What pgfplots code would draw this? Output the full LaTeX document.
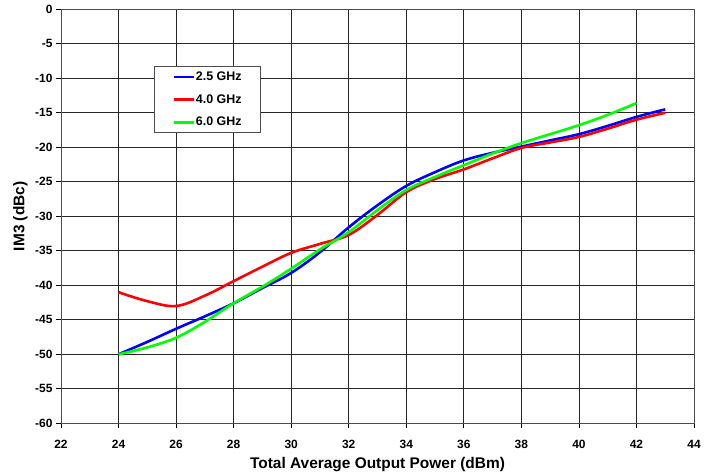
\documentclass[border=0pt]{standalone}
\usepackage{fontspec}
\setmainfont{Liberation Sans}
\usepackage{pgfplots}
\pgfplotsset{compat=1.18}
\definecolor{cblue}{RGB}{0,0,255}
\definecolor{cred}{RGB}{255,0,0}
\definecolor{cgreen}{RGB}{0,255,0}
\begin{document}
\begin{tikzpicture}
\begin{axis}[
    scale only axis,
    width=633bp, height=414bp,
    xmin=22, xmax=44, ymin=-60, ymax=0,
    xtick distance=2, ytick distance=5,
    xtick pos=bottom, ytick pos=left,
    tick align=outside,
    major tick length=5bp,
    every tick/.style={black, line width=0.8bp},
    grid=major,
    major grid style={black!85, line width=0.8bp},
    axis line style={black!70, line width=1bp},
    /pgf/number format/assume math mode=true,
    ticklabel style={font=\fontsize{12}{14}\selectfont\bfseries},
    xticklabel style={yshift=-8bp},
    label style={font=\fontsize{15.5}{18}\selectfont\bfseries},
    xlabel={Total Average Output Power (dBm)},
    ylabel={IM3 (dBc)},
    xlabel style={at={(axis description cs:0.5,-0.1)}, anchor=center},
    ylabel style={at={(axis description cs:-0.064,0.5)}, anchor=center},
    legend cell align=left,
    legend style={at={(axis cs:25.23,-8.2)}, anchor=north west,
        draw=black!70, line width=1bp, fill=white,
        font=\fontsize{12.5}{14}\selectfont\bfseries,
        inner xsep=18bp, inner ysep=3.5bp, row sep=8.5bp,
        nodes={inner xsep=1bp}},
    legend image code/.code={\draw[#1, line width=2.5bp] (0bp,0bp) -- (20bp,0bp);},
    every axis plot/.append style={line width=2.6bp, smooth, tension=0.6},
]
\addplot[cblue] coordinates {
 (24,-50) (25,-48.2) (26,-46.3) (27,-44.5) (28,-42.6) (29,-40.4) (30,-38.2)
 (31,-35.2) (32,-31.6) (33,-28.4) (34,-25.6) (35,-23.6) (36,-21.9) (37,-20.8)
 (38,-19.9) (39,-19.0) (40,-18.1) (41,-16.9) (42,-15.6) (43,-14.5)
};
\addlegendentry{2.5 GHz}
\addplot[cred] coordinates {
 (24,-41) (25,-42.3) (26,-43) (27,-41.5) (28,-39.4) (29,-37.3) (30,-35.3)
 (31,-34) (32,-32.7) (33,-29.8) (34,-26.5) (35,-24.6) (36,-23.2) (37,-21.6)
 (38,-20.1) (39,-19.3) (40,-18.5) (41,-17.3) (42,-16.0) (43,-15.0)
};
\addlegendentry{4.0 GHz}
\addplot[cgreen] coordinates {
 (24,-50) (25,-49) (26,-47.6) (27,-45.3) (28,-42.6) (29,-40.2) (30,-37.6)
 (31,-34.8) (32,-32.3) (33,-29.1) (34,-26.2) (35,-24.3) (36,-22.6) (37,-20.9)
 (38,-19.4) (39,-18.1) (40,-16.8) (41,-15.3) (42,-13.6)
};
\addlegendentry{6.0 GHz}
\end{axis}
\pgfresetboundingbox
\useasboundingbox ([shift={(-61bp,-52bp)}]current axis.south west) rectangle ([shift={(18bp,9.3bp)}]current axis.north east);
\end{tikzpicture}
\end{document}
